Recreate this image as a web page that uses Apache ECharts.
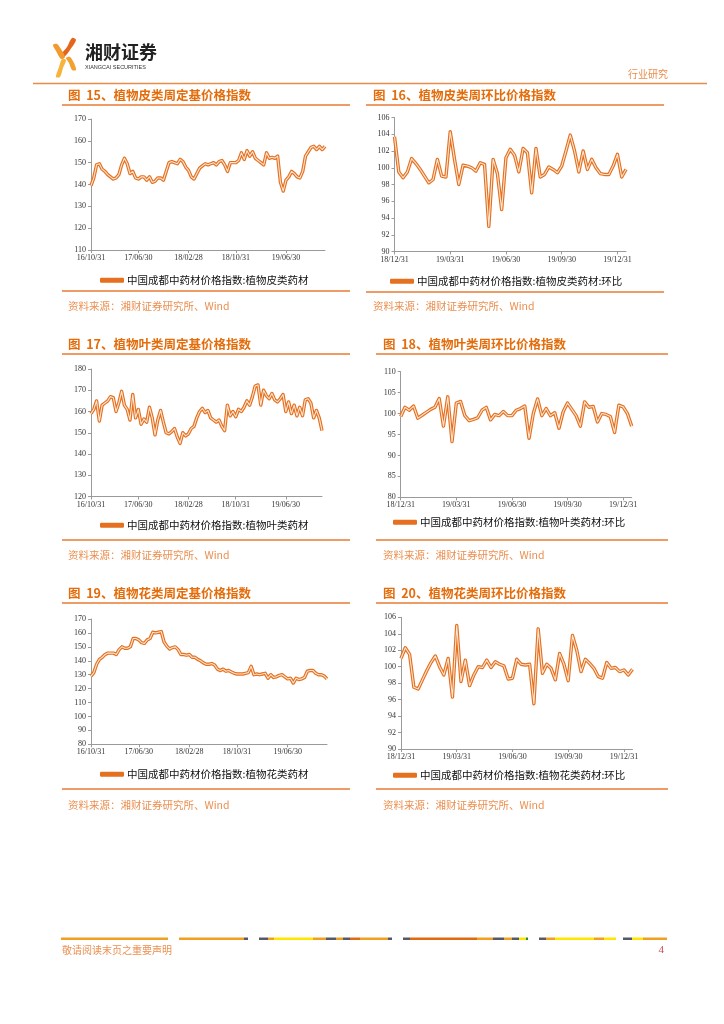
<!DOCTYPE html>
<html><head><meta charset="utf-8">
<script src="https://cdn.jsdelivr.net/npm/echarts/dist/echarts.min.js"></script>
<style>html,body{margin:0;padding:0;background:#fff;}#c{width:724px;height:1024px;}</style>
</head><body><div id="c"></div>
<script>
// ---- tick labels ----
const longTickLabels = ['16/10/31','17/06/30','18/02/28','18/10/31','19/06/30'];
const longTickIndex = [0,17,35,52,70];
const shortTickLabels = ['18/12/31','19/03/31','19/06/30','19/09/30','19/12/31'];
const shortTickIndex = [0,13,26,39,52];

// ---- series values ----
const c15 = [139.5,143,149,149.5,147,146,144.5,143.5,142.5,143,
144.5,149,152,149.5,145,146,143,142.5,143.5,143.5,
142,143.5,141,141.5,143,143,142,146,150,150.5,
150,149.5,151.5,150.5,148,146.5,143.5,142.5,145,147.5,
148.5,149.5,149,149.5,150,149,150.5,151,149,146,
150,150,150,151,154.5,151.5,155.5,153,155,152,
151,150,149,154.5,152,152.5,152,153,141,137,
142,143.5,146,145,143.5,143,146,153,155,157,
157.5,156,157.5,156,157.5];
const c16 = [103.7,99.5,98.8,99.5,101.1,100.5,99.8,99.0,98.2,98.6,
101.0,99.0,98.9,104.3,101.0,98.0,100.3,100.2,100.0,99.6,
100.6,100.4,93.0,101.0,99.3,95.0,101.2,102.2,101.5,99.5,
102.3,101.8,97.0,102.3,98.9,99.2,100.1,99.8,99.4,100.2,
102.0,103.9,102.0,99.5,102.0,99.8,101.0,100.0,99.3,99.2,
99.2,100.2,101.6,98.9,99.8];
const c17 = [159,161,165,155.5,163,164,165,167,166.5,160,
164,169.5,163,161,156,168,157,161,154,156.5,
155,162,157,149,156,160.5,155,150,149.5,150.5,
152,148,145,150,148.5,149.5,152,153,157,160,
161.5,159.5,160.5,157,156,155,156,153,151,163,
158,160,157.5,161,160,162,165,163,167,172,
172.5,163,170,167.5,166,168.5,165.5,164.5,166,168,
160,164.5,159,163,158,162,158,165.5,166,164,
157,160.5,157,151];
const c18 = [99.3,101.5,100.8,101.8,98.9,99.6,100.3,101.0,101.5,103.6,
97.0,104.0,93.3,102.5,102.9,99.5,98.3,98.6,99.0,100.8,
101.5,98.5,99.8,99.5,100.5,99.5,99.5,100.8,101.2,101.8,
94.1,100.0,103.5,99.5,101.2,99.5,100.2,96.5,100.5,102.5,
101.0,99.5,97.0,102.8,101.5,101.7,98.0,100.0,99.8,99.3,
95.5,102.0,101.6,100.0,97.0];
const c19 = [129,131.5,137.5,141,142.5,144.5,145.5,145.5,145.5,144.5,
148,150,149,149,150,156,156,155,153,152.5,
155,156,160.5,160,160.5,161,153.5,150.5,148.5,149.5,
150,148,144.5,144.5,144,144.5,142.5,142.5,141,140,
138.5,137.5,137.5,138,137,134,133,134,132.5,133,
132,131,130.5,130.5,130.5,131,131.5,136,130,130.5,
130,130.5,131,127.5,130,128,128.5,129.5,130,128.5,
127,127.5,124,127.5,126.5,127,128,132.5,133,133,
131,130,130,129,127];
const c20 = [101,102.3,101.5,97.5,97.3,98.4,99.5,100.5,101.3,100,
99,101,96.3,105,98.2,100.8,97.7,99,100,99.9,
100.8,99.9,100.6,100.3,100.1,98.5,98.6,100.9,100.3,100.2,
100.3,95.5,104.6,99.2,100.3,99.8,98.4,101.6,100.3,98.3,
103.8,102,99.4,100.9,100.4,99.8,98.8,98.6,100.5,99.8,
99.9,99.4,99.6,99.0,99.7];

const names = ['中国成都中药材价格指数:植物皮类药材','中国成都中药材价格指数:植物皮类药材:环比',
  '中国成都中药材价格指数:植物叶类药材','中国成都中药材价格指数:植物叶类药材:环比',
  '中国成都中药材价格指数:植物花类药材','中国成都中药材价格指数:植物花类药材:环比'];
const titles = ['图  15、植物皮类周定基价格指数','图  16、植物皮类周环比价格指数',
  '图  17、植物叶类周定基价格指数','图  18、植物叶类周环比价格指数',
  '图  19、植物花类周定基价格指数','图  20、植物花类周环比价格指数'];
const sourceText = '资料来源：湘财证券研究所、Wind';

// ---- layout ----
const charts = [
  {data:c15, grid:{left:91,top:119,width:234,height:131}, y:[110,170,10], long:true, legend:{left:100,top:275}},
  {data:c16, grid:{left:394.5,top:117.5,width:231.5,height:134}, y:[90,106,2], long:false, legend:{left:390,top:276}},
  {data:c17, grid:{left:91,top:369,width:231,height:127.5}, y:[120,180,10], long:true, legend:{left:100,top:520}},
  {data:c18, grid:{left:400.7,top:371.7,width:231,height:125.6}, y:[80,110,5], long:false, legend:{left:393,top:517}},
  {data:c19, grid:{left:91,top:619,width:236,height:125.3}, y:[80,170,10], long:true, legend:{left:100,top:769}},
  {data:c20, grid:{left:401,top:617.3,width:231.5,height:131.7}, y:[90,106,2], long:false, legend:{left:393,top:770}}
];

const ORANGE = '#E5701F';
const AXIS = '#9a9a9a';
const numFont = 'Liberation Serif';
const cjk = '"Noto Sans CJK SC"';

const grid=[], xAxis=[], yAxis=[], series=[], legend=[];
charts.forEach((c,k)=>{
  const ticks = c.long ? longTickIndex : shortTickIndex;
  const labs = c.long ? longTickLabels : shortTickLabels;
  const cats = c.data.map((_,i)=>String(i));
  grid.push(Object.assign({containLabel:false}, c.grid));
  const show = (idx)=>ticks.indexOf(idx)>=0;
  xAxis.push({type:'category', gridIndex:k, data:cats, boundaryGap:false,
    axisLine:{lineStyle:{color:AXIS,width:1}},
    axisTick:{show:true, interval:show, length:3, lineStyle:{color:AXIS}},
    axisLabel:{interval:show, formatter:(v,idx)=>{const p=ticks.indexOf(Number(v));return p>=0?labs[p]:'';},
      fontFamily:numFont, fontSize:8, color:'#333', margin:4},
    splitLine:{show:false}});
  yAxis.push({type:'value', gridIndex:k, min:c.y[0], max:c.y[1], interval:c.y[2],
    axisLine:{show:true, lineStyle:{color:AXIS,width:1}},
    axisTick:{show:true, length:3, lineStyle:{color:AXIS}},
    axisLabel:{fontFamily:numFont, fontSize:8, color:'#333', margin:5},
    splitLine:{show:false}});
  series.push({type:'line', name:names[k], xAxisIndex:k, yAxisIndex:k, data:c.data,
    symbol:'none', lineStyle:{color:ORANGE, width:3.4, join:'round'}, itemStyle:{color:ORANGE}, z:2});
  series.push({type:'line', name:'_in'+k, xAxisIndex:k, yAxisIndex:k, data:c.data,
    symbol:'none', lineStyle:{color:'#FCE6D4', width:1.1, join:'round'}, itemStyle:{color:'#FCE6D4'}, z:3, silent:true});
  legend.push({data:[names[k]], left:c.legend.left, top:c.legend.top, padding:0,
    selectedMode:false, icon:'roundRect', itemWidth:24, itemHeight:5, itemGap:4,
    textStyle:{fontFamily:cjk, fontSize:10.5, color:'#111', padding:[0,0,0,-2]}});
});

// ---- page furniture ----
const g = [];
function txt(x,y,text,font,fill,align){g.push({type:'text',x:x,y:y,silent:true,style:{text:text,font:font,fill:fill,align:align||'left',verticalAlign:'middle'}});}
function ln(x1,y1,x2,y2,color,w){g.push({type:'line',silent:true,shape:{x1:x1,y1:y1,x2:x2,y2:y2},style:{stroke:color,lineWidth:w}});}
function poly(pts,color){g.push({type:'polygon',silent:true,shape:{points:pts,smooth:0.3},style:{fill:color}});}
function rect(x,y,w,h,color){g.push({type:'rect',silent:true,shape:{x:x,y:y,width:w,height:h},style:{fill:color}});}

// logo
poly([[72,38],[76,40],[70,50],[64,57],[61,55],[67,47]],'#E4661A');
poly([[53,45],[57,44],[61,49],[65,57],[61,59],[56,51]],'#F29A2E');
poly([[56,77],[60,77],[63,68],[66,60],[62,59],[59,67]],'#F6B43C');
poly([[66,58],[70,57],[74,63],[76,70],[72,70],[69,63]],'#F2A030');
txt(85,52,'湘财证券','bold 18px '+cjk,'#222');
txt(85,67,'XIANGCAI SECURITIES','5.5px "Liberation Sans"','#333');
txt(668,74,'行业研究','10px '+cjk,'#E98B4A','right');
ln(33,83.5,707,83.5,'#E98B4A',1.5);

// chart blocks
const blocks = [
  {x:68, l1:62, l2:350, ty:95, tl:105, bl:291, sy:306},
  {x:373, l1:366, l2:664, ty:95, tl:105, bl:292, sy:306},
  {x:68, l1:62, l2:350, ty:344, tl:354, bl:540, sy:555},
  {x:383, l1:376, l2:668, ty:344, tl:354, bl:540, sy:555},
  {x:68, l1:62, l2:350, ty:593, tl:603, bl:789, sy:805},
  {x:383, l1:376, l2:668, ty:593, tl:603, bl:789, sy:805}
];
blocks.forEach((b,k)=>{
  txt(b.x,b.ty,titles[k],'bold 12.5px '+cjk,'#E46C0A');
  ln(b.l1,b.tl,b.l2,b.tl,'#E97A32',1.5);
  ln(b.l1,b.bl,b.l2,b.bl,'#E97A32',1.5);
  txt(b.x,b.sy,sourceText,'10.5px '+cjk,'#EB8F50');
});

// footer bar
const fy = 937.5, fh = 2.5;
[[61,168,'#F0A020'],[179,244,'#F0A020'],[244,248,'#555a66'],
 [259,268,'#555a66'],[268,274,'#F0A020'],[274,313,'#FFE600'],[313,326,'#F0A020'],[326,336,'#555a66'],[336,343,'#F0A020'],[343,350,'#555a66'],[350,360,'#E06A10'],[360,388,'#F0A020'],[388,392,'#555a66'],
 [403,410,'#555a66'],[410,477,'#E06A10'],[477,493,'#F0A020'],[493,504,'#555a66'],[504,512,'#F0A020'],[512,519,'#555a66'],[519,526,'#FFE600'],[526,528,'#2a8a3a'],
 [539,546,'#555a66'],[546,555,'#F0A020'],[555,594,'#FFE600'],[594,604,'#F0A020'],[604,616,'#FFE600'],
 [623,632,'#555a66'],[632,643,'#FFE600'],[643,667,'#F0A020']
].forEach(s=>rect(s[0],fy,s[1]-s[0],fh,s[2]));
txt(62,950,'敬请阅读末页之重要声明','10px '+cjk,'#EB8F50');
txt(664,950,'4','11px "Liberation Serif"','#C0504D','right');

const chart = echarts.init(document.getElementById('c'), null, {renderer:'canvas', width:724, height:1024});
chart.setOption({animation:false, backgroundColor:'#fff', grid, xAxis, yAxis, series, legend, graphic:g});
</script></body></html>
